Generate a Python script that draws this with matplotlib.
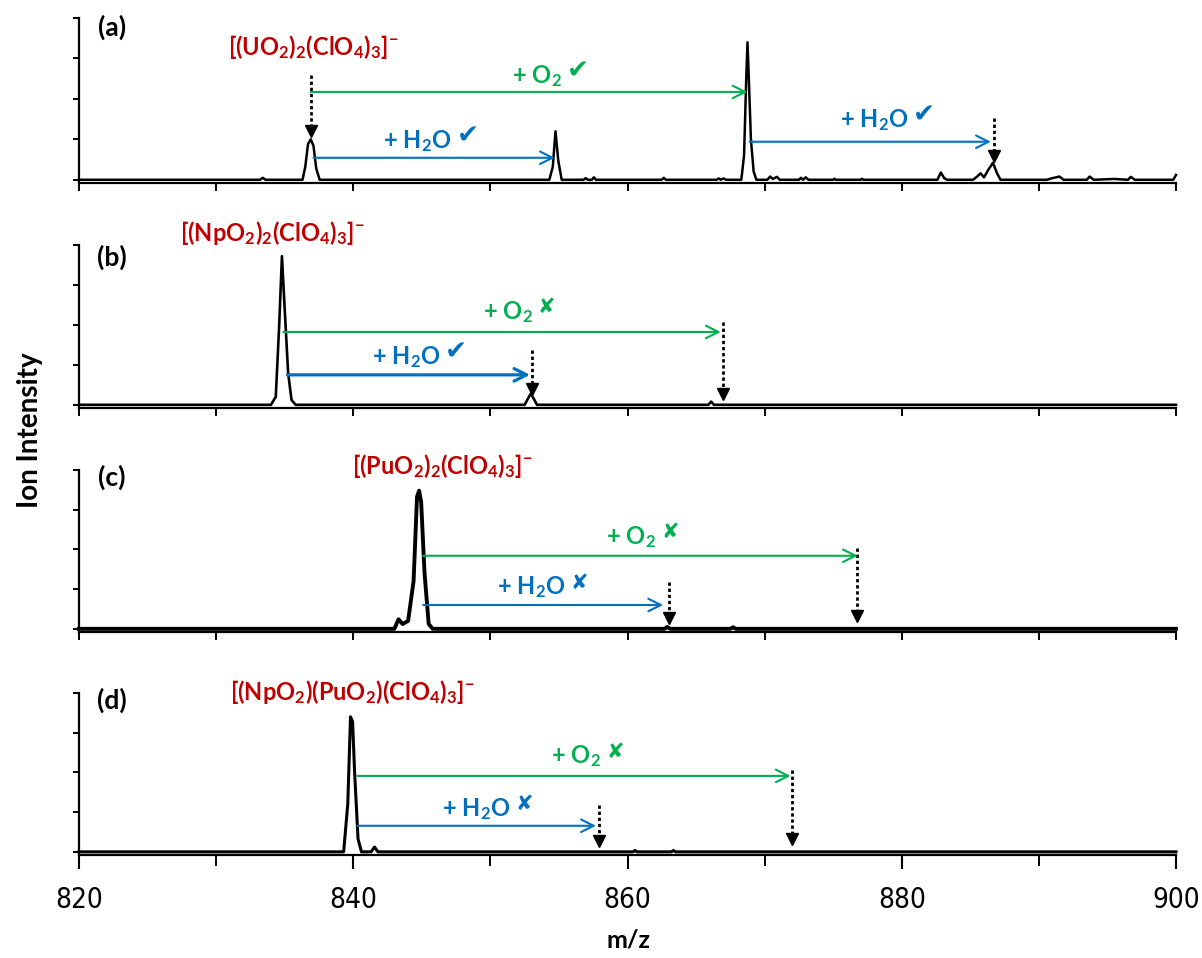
import matplotlib
matplotlib.use("Agg")
import matplotlib.pyplot as plt
from matplotlib import font_manager as fm

# ---------------- data ----------------
mz_a = [820, 833.2, 833.4, 833.6, 836.3, 836.5, 836.7, 836.9, 837.1, 837.3, 837.55,
        854.3, 854.55, 854.75, 854.95, 855.2, 856.8, 856.95, 857.1, 857.4, 857.55, 857.7,
        862.5, 862.65, 862.8, 866.5, 866.65, 866.8, 867.0, 867.2,
        868.3, 868.5, 868.65, 868.75, 868.85, 869.0, 869.2, 869.4,
        870.2, 870.4, 870.6, 870.9, 871.1, 872.5, 872.65, 872.8, 873.0, 873.2,
        875.0, 875.1, 875.2, 877.0, 877.1, 877.2,
        882.6, 882.85, 883.1, 883.3, 885.2, 885.5, 885.75, 886.0, 886.3, 886.65, 886.95, 887.2,
        890.6, 890.8, 891.5, 891.8, 893.5, 893.7, 894.0, 895.5, 896.5, 896.7, 897.0, 899.8, 900]
int_a = [0, 0, 0.012, 0, 0, 0.08, 0.22, 0.25, 0.21, 0.07, 0,
         0, 0.08, 0.30, 0.12, 0, 0, 0.01, 0, 0, 0.015, 0,
         0, 0.012, 0, 0, 0.008, 0, 0.008, 0,
         0, 0.15, 0.6, 0.85, 0.62, 0.25, 0.05, 0,
         0, 0.02, 0.005, 0.018, 0, 0, 0.012, 0, 0.015, 0,
         0, 0.006, 0, 0, 0.006, 0,
         0, 0.045, 0.01, 0, 0, 0.02, 0.04, 0.015, 0.06, 0.105, 0.04, 0,
         0, 0.006, 0.02, 0, 0, 0.02, 0, 0.005, 0, 0.018, 0, 0, 0.03]

mz_b = [820, 834.0, 834.35, 834.6, 834.8, 835.0, 835.25, 835.5, 835.8,
        852.5, 852.75, 852.95, 853.15, 853.4, 865.9, 866.1, 866.3, 900]
int_b = [0, 0, 0.05, 0.5, 0.93, 0.6, 0.2, 0.03, 0,
         0, 0.04, 0.07, 0.04, 0, 0, 0.02, 0, 0]

mz_c = [820, 843.0, 843.3, 843.6, 844.0, 844.4, 844.65, 844.8, 844.95, 845.2, 845.5, 845.8,
        862.7, 862.9, 863.1, 867.5, 867.7, 867.9, 900]
int_c = [0, 0, 0.06, 0.03, 0.05, 0.3, 0.83, 0.87, 0.8, 0.35, 0.03, 0,
         0, 0.012, 0, 0, 0.01, 0, 0]

mz_d = [820, 839.3, 839.6, 839.8, 839.95, 840.1, 840.35, 840.6, 841.3, 841.55, 841.8,
        860.4, 860.55, 860.7, 863.2, 863.35, 863.5, 900]
int_d = [0, 0, 0.3, 0.85, 0.82, 0.5, 0.08, 0, 0, 0.03, 0,
         0, 0.008, 0, 0, 0.008, 0, 0]

panel_letters = ["(a)", "(b)", "(c)", "(d)"]
ion_labels = [r"$\mathbf{[(UO_2)_2(ClO_4)_3]^{-}}$",
              r"$\mathbf{[(NpO_2)_2(ClO_4)_3]^{-}}$",
              r"$\mathbf{[(PuO_2)_2(ClO_4)_3]^{-}}$",
              r"$\mathbf{[(NpO_2)(PuO_2)(ClO_4)_3]^{-}}$"]
x_ticks = [820, 840, 860, 880, 900]
x_label = "m/z"
y_label = "Ion Intensity"

# ---------------- style ----------------
avail = {f.name for f in fm.fontManager.ttflist}
main_font = "Lato" if "Lato" in avail else "DejaVu Sans"

tick_fp = None
for f in fm.fontManager.ttflist:
    fn = f.fname.lower()
    if "liberationsansnarrow-regular" in fn.replace(" ", "").replace("_", ""):
        tick_fp = fm.FontProperties(fname=f.fname)
        break
if tick_fp is None:
    for f in fm.fontManager.ttflist:
        fn = f.fname.lower()
        if fn.endswith("dejavusanscondensed.ttf"):
            tick_fp = fm.FontProperties(fname=f.fname)
            break
if tick_fp is None:
    tick_fp = fm.FontProperties(family="Liberation Sans")

plt.rcParams["mathtext.fontset"] = "custom"
plt.rcParams["mathtext.rm"] = main_font
plt.rcParams["mathtext.bf"] = main_font + ":bold"
plt.rcParams["mathtext.it"] = main_font + ":italic"

RED = "#C00000"
GREEN = "#00B050"
BLUE = "#0070C0"
CHECK = "\u2714"
CROSS = "\u2718"

W, H = 1202, 958
fig = plt.figure(figsize=(W / 100, H / 100), dpi=100)

left_px, right_px = 79, 1176
panel_px = [(18, 183), (245, 408), (470, 632), (693, 855)]
axes = []
for top, bot in panel_px:
    ax = fig.add_axes([left_px / W, 1 - bot / H, (right_px - left_px) / W, (bot - top) / H])
    axes.append(ax)

spectra = [(mz_a, int_a, 1.8), (mz_b, int_b, 1.9), (mz_c, int_c, 2.8), (mz_d, int_d, 2.2)]

for i, ax in enumerate(axes):
    mz, inten, lw = spectra[i]
    ax.plot(mz, inten, color="black", lw=lw, solid_joinstyle="round", clip_on=False)
    ax.set_xlim(820, 900)
    ax.set_ylim(-0.02, 1.0)
    for s in ["top", "right"]:
        ax.spines[s].set_visible(False)
    for s in ["left", "bottom"]:
        ax.spines[s].set_linewidth(1.6)
    ax.set_yticks([0, 0.25, 0.5, 0.75, 1.0])
    ax.tick_params(axis="y", direction="out", length=4, width=1.4, labelleft=False)
    if i < 3:
        ax.set_xticks(range(820, 901, 10))
        ax.tick_params(axis="x", direction="out", length=6, width=1.4, labelbottom=False)
    else:
        ax.set_xticks(x_ticks)
        ax.set_xticks(range(830, 900, 20), minor=True)
        ax.tick_params(axis="x", which="major", direction="out", length=10, width=1.5,
                       labelsize=20, pad=12)
        ax.tick_params(axis="x", which="minor", direction="out", length=8, width=1.4)
        for lab in ax.get_xticklabels():
            lab.set_fontproperties(tick_fp)
            lab.set_fontsize(20)
    ax.text(822.4, [0.944, 0.925, 0.956, 0.956][i], panel_letters[i], fontsize=19,
            fontweight="bold", family=main_font, ha="center", va="center")

ion_pos = [(837.1, 0.82), (834.1, 1.075), (846.5, 1.025), (839.9, 1.006)]
for ax, lab, (x, y) in zip(axes, ion_labels, ion_pos):
    ax.text(x, y, lab, color=RED, fontsize=17, ha="center", va="center", clip_on=False)


def harrow(ax, x0, x1, y, color, lw=1.5):
    ax.annotate("", xy=(x1, y), xytext=(x0, y), annotation_clip=False,
                arrowprops=dict(arrowstyle="->,head_length=0.9,head_width=0.45",
                                color=color, lw=lw, shrinkA=0, shrinkB=0))


def dotted(ax, x, y0, y1):
    ax.plot([x, x], [y0, y1 + 0.04], color="black", lw=2, linestyle=(0, (1.2, 1.0)),
            clip_on=False)
    ax.plot([x], [y1 + 0.03], marker="v", ms=8, color="black", clip_on=False)


def label(ax, x, y, formula, mark, color):
    ax.text(x, y, formula, color=color, fontsize=17, ha="right", va="center")
    size = 19 if mark == CHECK else 15
    ax.text(x + 0.35, y + 0.03, mark, color=color, fontsize=size,
            family="DejaVu Sans", ha="left", va="center")

O2 = r"$\mathbf{+\ O_2}$"
H2O = r"$\mathbf{+\ H_2O}$"

# panel a
ax = axes[0]
dotted(ax, 836.9, 0.65, 0.27)
harrow(ax, 836.9, 868.75, 0.543, GREEN)
label(ax, 855.2, 0.64, O2, CHECK, GREEN)
harrow(ax, 837.1, 854.7, 0.136, BLUE)
label(ax, 847.2, 0.24, H2O, CHECK, BLUE)
harrow(ax, 868.9, 886.5, 0.235, BLUE)
label(ax, 880.5, 0.37, H2O, CHECK, BLUE)
dotted(ax, 886.7, 0.38, 0.12)

# panel b
ax = axes[1]
harrow(ax, 834.9, 866.8, 0.456, GREEN)
label(ax, 853.1, 0.58, O2, CROSS, GREEN)
dotted(ax, 866.95, 0.52, 0.04)
harrow(ax, 835.2, 852.9, 0.1875, BLUE, lw=2.3)
label(ax, 846.35, 0.30, H2O, CHECK, BLUE)
dotted(ax, 853.0, 0.34, 0.07)

# panel c
ax = axes[2]
harrow(ax, 845.1, 876.8, 0.46, GREEN)
label(ax, 862.1, 0.58, O2, CROSS, GREEN)
dotted(ax, 876.75, 0.51, 0.05)
harrow(ax, 845.1, 862.6, 0.15, BLUE)
label(ax, 855.5, 0.26, H2O, CROSS, BLUE)
dotted(ax, 863.0, 0.295, 0.04)

# panel d
ax = axes[3]
harrow(ax, 840.3, 871.9, 0.478, GREEN)
label(ax, 858.1, 0.60, O2, CROSS, GREEN)
dotted(ax, 872.0, 0.515, 0.05)
harrow(ax, 840.3, 857.7, 0.164, BLUE)
label(ax, 851.5, 0.27, H2O, CROSS, BLUE)
dotted(ax, 857.9, 0.296, 0.04)

fig.text(30 / W, 1 - 430 / H, y_label, rotation=90, fontsize=20, fontweight="bold",
         family=main_font, ha="center", va="center")
fig.text(628 / W, 1 - 940 / H, x_label, fontsize=18, fontweight="bold",
         family=main_font, ha="center", va="center")

fig.savefig("out.png", dpi=100)
